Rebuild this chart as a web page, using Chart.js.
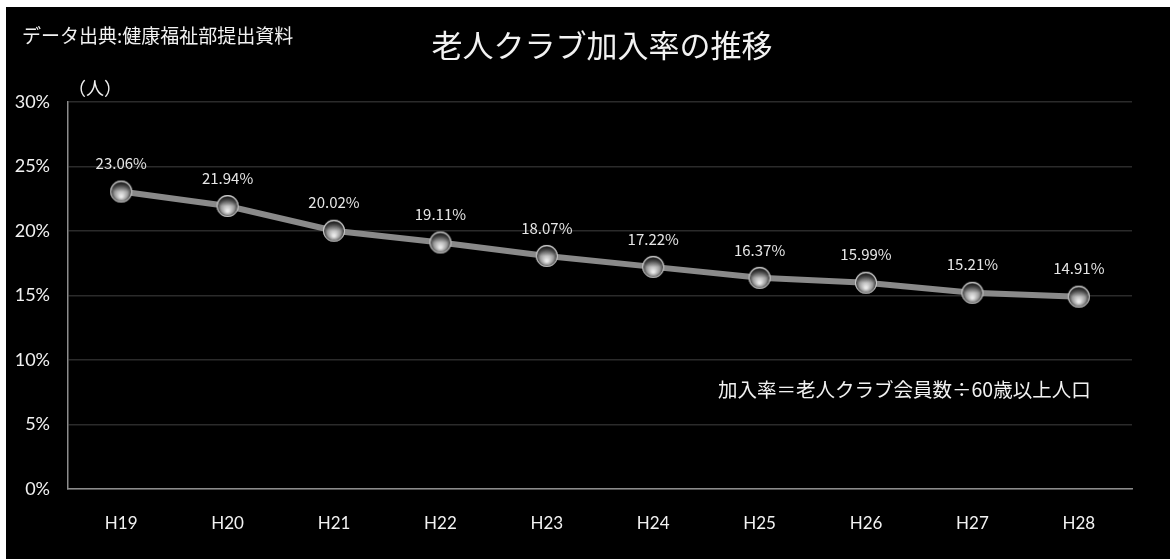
<!DOCTYPE html>
<html>
<head>
<meta charset="utf-8">
<script src="https://cdn.jsdelivr.net/npm/chart.js@4"></script>
<style>
  html, body { margin:0; padding:0; background:#fff; }
  #wrap { position:absolute; left:6px; top:7px; width:1164px; height:552px; background:#000; }
</style>
</head>
<body>
<div id="wrap"><canvas id="c" width="1164" height="552"></canvas></div>
<script>
// 老人クラブ加入率 (%)
const years = ['H19','H20','H21','H22','H23','H24','H25','H26','H27','H28'];
const rates = [23.06, 21.94, 20.02, 19.11, 18.07, 17.22, 16.37, 15.99, 15.21, 14.91];
const yTicks = [0, 5, 10, 15, 20, 25, 30];

const jp = '"Noto Sans CJK JP", sans-serif';

// glossy ball used as point marker
function ball(r) {
  const cv = document.createElement('canvas');
  cv.width = cv.height = r * 2 + 4;
  const g = cv.getContext('2d');
  const c = r + 2;
  let grd = g.createRadialGradient(c, c + r * 0.45, r * 0.1, c, c, r);
  grd.addColorStop(0, '#e8e8e8');
  grd.addColorStop(0.55, '#9a9a9a');
  grd.addColorStop(0.85, '#4a4a4a');
  grd.addColorStop(1, '#bdbdbd');
  g.fillStyle = grd;
  g.beginPath(); g.arc(c, c, r, 0, Math.PI * 2); g.fill();
  // dark cap on top
  grd = g.createLinearGradient(0, c - r, 0, c);
  grd.addColorStop(0, 'rgba(20,20,20,0.95)');
  grd.addColorStop(1, 'rgba(20,20,20,0)');
  g.fillStyle = grd;
  g.beginPath(); g.ellipse(c, c - r * 0.3, r * 0.75, r * 0.55, 0, 0, Math.PI * 2); g.fill();
  g.strokeStyle = 'rgba(220,220,220,0.8)';
  g.lineWidth = 1;
  g.beginPath(); g.arc(c, c, r - 0.5, 0, Math.PI * 2); g.stroke();
  return cv;
}

const labelsPlugin = {
  id: 'texts',
  afterDatasetsDraw(chart) {
    const ctx = chart.ctx;
    const meta = chart.getDatasetMeta(0);
    ctx.save();
    ctx.fillStyle = '#e6e6e6';
    ctx.font = '15px ' + jp;
    ctx.textAlign = 'center';
    ctx.textBaseline = 'middle';
    meta.data.forEach((p, i) => {
      ctx.fillText(rates[i].toFixed(2) + '%', p.x, p.y - 28);
    });
    ctx.restore();
  },
  afterDraw(chart) {
    const ctx = chart.ctx;
    ctx.save();
    ctx.fillStyle = '#f2f2f2';
    ctx.textBaseline = 'middle';
    ctx.font = '19px ' + jp;
    ctx.textAlign = 'left';
    ctx.fillText('データ出典:健康福祉部提出資料', 16, 29);
    ctx.font = '18px ' + jp;
    ctx.fillText('（人）', 62, 81);
    ctx.font = '31px ' + jp;
    ctx.textAlign = 'center';
    ctx.fillText('老人クラブ加入率の推移', 596, 38);
    ctx.font = '19.5px ' + jp;
    ctx.textAlign = 'left';
    ctx.fillText('加入率＝老人クラブ会員数÷60歳以上人口', 712, 383);
    ctx.restore();
  }
};

new Chart(document.getElementById('c'), {
  type: 'line',
  data: {
    labels: years,
    datasets: [{
      data: rates,
      borderColor: '#8a8a8a',
      borderWidth: 6,
      pointStyle: ball(11),
      pointRadius: 11,
      pointHoverRadius: 11,
      tension: 0
    }]
  },
  options: {
    responsive: false,
    animation: false,
    layout: { padding: { top: 95, right: 38, left: 0, bottom: 0 } },
    plugins: { legend: { display: false }, tooltip: { enabled: false } },
    scales: {
      x: {
        offset: true,
        grid: { display: false, drawTicks: false, offset: true },
        border: { color: '#8c8c8c', width: 1.5 },
        ticks: { color: '#f2f2f2', padding: 24, font: { family: 'Lato, sans-serif', size: 17 } },
        afterFit(s) { s.height = 70; }
      },
      y: {
        min: 0, max: 30,
        afterBuildTicks(s) { s.ticks = yTicks.map(v => ({ value: v })); },
        grid: { color: '#2b2b2b', lineWidth: 1.5, drawTicks: false },
        border: { color: '#8c8c8c', width: 1.5 },
        ticks: { color: '#f2f2f2', padding: 18, font: { family: 'Lato, sans-serif', size: 18 }, callback: v => v + '%' },
        afterFit(s) { s.width = 62; }
      }
    }
  },
  plugins: [labelsPlugin]
});
</script>
</body>
</html>
